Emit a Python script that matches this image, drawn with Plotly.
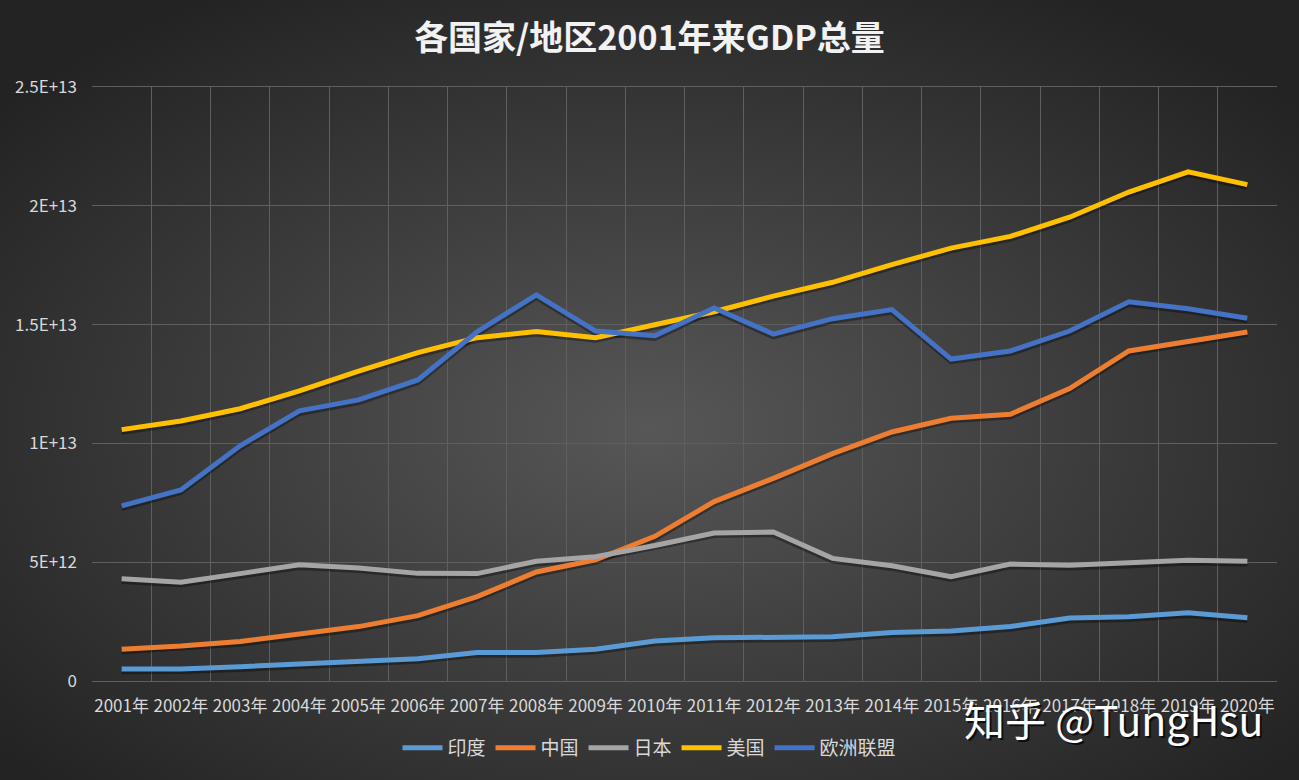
import base64
import plotly.graph_objects as go

years = [f"{y}年" for y in range(2001, 2021)]

india = [0.50, 0.51, 0.60, 0.71, 0.82, 0.94, 1.20, 1.20, 1.34, 1.68, 1.82, 1.83, 1.86, 2.04, 2.10, 2.29, 2.65, 2.70, 2.87, 2.66]
china = [1.34, 1.47, 1.66, 1.96, 2.29, 2.75, 3.55, 4.59, 5.10, 6.09, 7.55, 8.53, 9.57, 10.48, 11.06, 11.23, 12.31, 13.89, 14.28, 14.69]
japan = [4.30, 4.16, 4.52, 4.89, 4.76, 4.53, 4.52, 5.04, 5.23, 5.70, 6.23, 6.27, 5.16, 4.85, 4.39, 4.92, 4.87, 4.95, 5.08, 5.04]
usa = [10.58, 10.94, 11.46, 12.21, 13.04, 13.82, 14.45, 14.71, 14.45, 14.99, 15.54, 16.20, 16.78, 17.52, 18.22, 18.71, 19.52, 20.58, 21.43, 20.89]
eu = [7.37, 8.04, 9.90, 11.37, 11.83, 12.67, 14.70, 16.25, 14.73, 14.53, 15.70, 14.60, 15.25, 15.63, 13.55, 13.89, 14.73, 15.96, 15.67, 15.27]

series_names = ["印度", "中国", "日本", "美国", "欧洲联盟"]
series_values = [india, china, japan, usa, eu]
series_colors = ["#5B9BD5", "#ED7D31", "#A5A5A5", "#FFC000", "#4472C4"]

y_tickvals = [0, 5e12, 1e13, 1.5e13, 2e13, 2.5e13]
y_ticktext = ["0", "5E+12", "1E+13", "1.5E+13", "2E+13", "2.5E+13"]

W, H = 1299, 780
ML, MR, MT, MB = 92, 22, 87, 99
PW, PH = W - ML - MR, H - MT - MB

svg = f'''<svg xmlns="http://www.w3.org/2000/svg" width="{W}" height="{H}" viewBox="0 0 {W} {H}" preserveAspectRatio="none">
<defs><radialGradient id="g" cx="50%" cy="55%" r="65%" fx="50%" fy="55%">
<stop offset="0%" stop-color="#575757"/><stop offset="100%" stop-color="#232323"/>
</radialGradient></defs>
<rect x="0" y="0" width="{W}" height="{H}" fill="url(#g)"/></svg>'''
bg_uri = "data:image/svg+xml;base64," + base64.b64encode(svg.encode()).decode()

fig = go.Figure()

# soft shadows under lines
for vals in series_values:
    fig.add_trace(go.Scatter(
        x=years, y=[v * 1e12 - 0.09e12 for v in vals], mode="lines",
        line=dict(color="rgba(0,0,0,0.35)", width=6),
        showlegend=False, hoverinfo="skip"))

for name, vals, col in zip(series_names, series_values, series_colors):
    fig.add_trace(go.Scatter(
        x=years, y=[v * 1e12 for v in vals], mode="lines", name=name,
        line=dict(color=col, width=5)))

fig.update_layout(
    width=W, height=H,
    margin=dict(l=ML, r=MR, t=MT, b=MB),
    paper_bgcolor="#2b2b2b",
    plot_bgcolor="rgba(0,0,0,0)",
    font=dict(family="Noto Sans CJK SC", color="#d9d9d9"),
    title=dict(text="<b>各国家/地区2001年来GDP总量</b>", x=0.5, xref="container",
               y=1 - 38 / H, yanchor="middle",
               font=dict(size=34, color="#f2f2f2", family="Noto Sans CJK SC")),
    legend=dict(orientation="h", x=0.5, xref="container", xanchor="center",
                y=1 - 748 / H, yref="container", yanchor="middle",
                font=dict(size=19, color="#d9d9d9"), bgcolor="rgba(0,0,0,0)",
                itemwidth=40),
    images=[dict(source=bg_uri, xref="paper", yref="paper",
                 x=-ML / PW, y=1 + MT / PH, sizex=W / PW, sizey=H / PH,
                 xanchor="left", yanchor="top", sizing="stretch", layer="below")],
    showlegend=True,
)

fig.update_xaxes(type="category", tickson="boundaries", showgrid=True,
                 gridcolor="#5f5f5f", gridwidth=1, ticks="", tickangle=0,
                 tickfont=dict(size=17, color="#d9d9d9"), showline=True,
                 linecolor="#5f5f5f", mirror=True, zeroline=False,
                 ticklabelstandoff=10,
                 range=[-0.5, len(years) - 0.5])
fig.update_yaxes(range=[0, 2.5e13], tickvals=y_tickvals, ticktext=y_ticktext,
                 showgrid=True, gridcolor="#5f5f5f", gridwidth=1, zeroline=False,
                 tickfont=dict(size=17, color="#d9d9d9"), ticks="", ticklabelstandoff=14,
                 showline=False)

wm_x = (1265 - ML) / PW
wm_y = (681 - 718) / PH
fig.add_annotation(text="知乎 @TungHsu", xref="paper", yref="paper", x=wm_x, y=wm_y,
                   xanchor="right", yanchor="middle", showarrow=False,
                   xshift=2, yshift=-2,
                   font=dict(size=41, color="rgba(0,0,0,0.7)", family="Noto Sans CJK SC"))
fig.add_annotation(text="知乎 @TungHsu", xref="paper", yref="paper", x=wm_x, y=wm_y,
                   xanchor="right", yanchor="middle", showarrow=False,
                   font=dict(size=41, color="#ffffff", family="Noto Sans CJK SC"))

fig.write_html("out.html", config={"displayModeBar": False},
               post_script="document.body.style.margin='0';document.body.style.overflow='hidden';")
